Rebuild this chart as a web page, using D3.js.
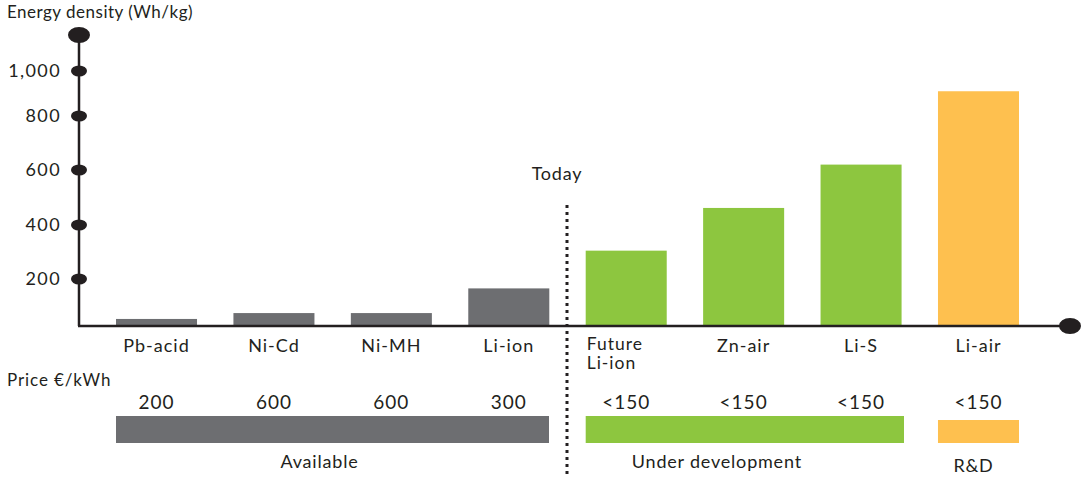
<!DOCTYPE html>
<html><head><meta charset="utf-8">
<script src="https://cdn.jsdelivr.net/npm/d3@7"></script>
<style>
body{margin:0;background:#fff;}
svg text{font-family:Lato,"Noto Sans",sans-serif;fill:#231f20;}
</style></head>
<body><svg id="c" width="1082" height="477"></svg>
<script>
const categories = ["Pb-acid","Ni-Cd","Ni-MH","Li-ion","Future Li-ion","Zn-air","Li-S","Li-air"];
const categoryLines = [["Pb-acid"],["Ni-Cd"],["Ni-MH"],["Li-ion"],["Future","Li-ion"],["Zn-air"],["Li-S"],["Li-air"]];
const energyDensity = [30, 55, 55, 160, 305, 462, 620, 910];
const groupOf = ["Available","Available","Available","Available","Under development","Under development","Under development","R&D"];
const prices = ["200","600","600","300","<150","<150","<150","<150"];
const groups = ["Available","Under development","R&D"];
const yTicks = [200, 400, 600, 800, 1000];
const yAxisTop = 1160;

const color = {"Available":"#6d6e71","Under development":"#8dc63f","R&D":"#fec04f"};
const ink = "#231f20";
const svg = d3.select("#c");

// y scale: the source graphic uses a slightly uneven spacing, reproduced piecewise
const y = d3.scaleLinear()
  .domain([0, 200, 400, 600, 800, 1000, 1160])
  .range([326, 279, 225, 170, 116, 71, 35]);

const x = d3.scaleBand().domain(categories).range([116, 1019]).paddingInner(0.31).paddingOuter(0);

// bars
svg.append("g").selectAll("rect").data(categories).join("rect")
  .attr("x", d => x(d))
  .attr("width", x.bandwidth())
  .attr("y", (d,i) => y(energyDensity[i]))
  .attr("height", (d,i) => y(0) - y(energyDensity[i]))
  .attr("fill", (d,i) => color[groupOf[i]]);

// y axis line
svg.append("line").attr("x1",79).attr("x2",79).attr("y1",y(yAxisTop)).attr("y2",y(0))
  .attr("stroke",ink).attr("stroke-width",2.5);
// x axis line
svg.append("line").attr("x1",78).attr("x2",1070).attr("y1",y(0)).attr("y2",y(0))
  .attr("stroke",ink).attr("stroke-width",2.5);
// end dots
svg.append("ellipse").attr("cx",79).attr("cy",y(yAxisTop)).attr("rx",11).attr("ry",8).attr("fill",ink);
svg.append("ellipse").attr("cx",1070).attr("cy",y(0)).attr("rx",11).attr("ry",8).attr("fill",ink);

// ticks
const tg = svg.append("g").selectAll("g").data(yTicks).join("g")
  .attr("transform", d => `translate(79,${y(d)})`);
tg.append("ellipse").attr("rx",8).attr("ry",5.5).attr("fill",ink);
tg.append("text").attr("x",-18).attr("dy","0.36em").attr("text-anchor","end")
  .attr("font-size",18).attr("letter-spacing",1.4).text(d => d3.format(",")(d));

// title
svg.append("text").attr("x",7).attr("y",18).attr("font-size",17).attr("letter-spacing",0.5).text("Energy density (Wh/kg)");

// category labels
const catG = svg.append("g");
categories.forEach((c,i) => {
  const lines = categoryLines[i];
  const multi = lines.length > 1;
  lines.forEach((ln, j) => {
    catG.append("text")
      .attr("x", multi ? x(c)+1 : x(c)+x.bandwidth()/2)
      .attr("y", multi ? 350 + j*19 : 352)
      .attr("text-anchor", multi ? "start" : "middle")
      .attr("font-size", multi ? 17.5 : 18).attr("letter-spacing",1).text(ln);
  });
});

// Today marker
svg.append("line").attr("x1",567).attr("x2",567).attr("y1",205).attr("y2",477)
  .attr("stroke",ink).attr("stroke-width",3).attr("stroke-dasharray","3,4");
svg.append("text").attr("x",557).attr("y",180).attr("text-anchor","middle")
  .attr("font-size",18).attr("letter-spacing",0.8).text("Today");

// price section
svg.append("text").attr("x",7).attr("y",386).attr("font-size",17).attr("letter-spacing",0.9).text("Price €/kWh");
svg.append("g").selectAll("text").data(categories).join("text")
  .attr("x", d => x(d)+x.bandwidth()/2).attr("y",409).attr("text-anchor","middle")
  .attr("font-size",19).attr("letter-spacing",1).text((d,i) => prices[i]);

const groupLabelY = {"Available":468,"Under development":468,"R&D":472};
const groupTop = {"Available":416,"Under development":416,"R&D":420};
groups.forEach(g => {
  const cats = categories.filter((c,i) => groupOf[i] === g);
  const x0 = x(cats[0]);
  const x1 = g === "Available" ? 549 : (g === "Under development" ? 904 : x(cats[cats.length-1]) + x.bandwidth());
  svg.append("rect").attr("x",x0).attr("width",x1-x0).attr("y",groupTop[g]).attr("height",443-groupTop[g])
    .attr("fill",color[g]);
  svg.append("text").attr("x",(x0+x1)/2 - (g==="R&D"?5:(g==="Available"?13:28))).attr("y",groupLabelY[g])
    .attr("text-anchor","middle").attr("font-size",18).attr("letter-spacing",0.8).text(g);
});
</script></body></html>
